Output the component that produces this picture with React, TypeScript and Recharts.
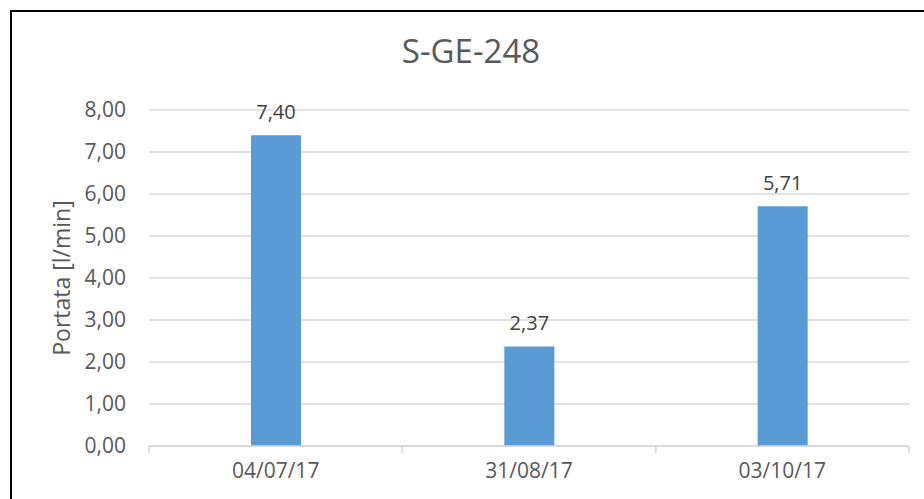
import { BarChart, Bar, XAxis, YAxis, CartesianGrid, LabelList } from 'recharts';

const dates = ['04/07/17', '31/08/17', '03/10/17'];
const portata = [7.4, 2.37, 5.71];
const yTicks = [0, 1, 2, 3, 4, 5, 6, 7, 8];

const data = dates.map((d, i) => ({ date: d, value: portata[i] }));

const fmt = (v: number) => v.toFixed(2).replace('.', ',');
const FONT = '"Open Sans", sans-serif';
const GRID = '#d9d9d9';

// category label plus small tick marks at the band edges
function DateTick(props: any) {
  const { x, y, payload } = props;
  const half = payload?.offset ?? 0;
  return (
    <g>
      {half > 0 && (
        <>
          <line x1={x - half} x2={x - half} y1={y} y2={y + 7} stroke={GRID} strokeWidth={1.5} />
          <line x1={x + half} x2={x + half} y1={y} y2={y + 7} stroke={GRID} strokeWidth={1.5} />
        </>
      )}
      <text x={x} y={y + 14} dy="0.85em" textAnchor="middle" fill="#595959" fontSize={21} fontFamily={FONT}>
        {payload.value}
      </text>
    </g>
  );
}

export default function App() {
  return (
    <div style={{ position: 'absolute', left: 0, top: 0, width: 924, height: 499, overflow: 'hidden', background: '#fff', fontFamily: FONT }}>
      <div style={{ position: 'absolute', left: 10, top: 10, width: 940, height: 520, border: '2px solid #000' }} />
      <div style={{ position: 'absolute', left: 10, width: 922, top: 34, fontSize: 33, lineHeight: '33px', textAlign: 'center', color: '#595959' }}>
        S-GE-248
      </div>
      <div style={{ position: 'absolute', left: 0, top: 0 }}>
        <BarChart width={924} height={499} data={data} margin={{ top: 110, right: 15, left: 0, bottom: 0 }}>
          <CartesianGrid vertical={false} stroke={GRID} strokeWidth={1.5} />
          <XAxis
            dataKey="date"
            height={53}
            axisLine={{ stroke: GRID, strokeWidth: 1.5 }}
            tickLine={false}
            tickSize={0}
            tickMargin={0}
            tick={<DateTick />}
          />
          <YAxis
            width={149}
            domain={[0, 8]}
            ticks={yTicks}
            tickFormatter={fmt}
            axisLine={false}
            tickLine={false}
            tickSize={0}
            tickMargin={23}
            tick={{ fill: '#595959', fontSize: 21, fontFamily: FONT }}
            label={{
              content: (props: any) => {
                const vb = props.viewBox || {};
                const cx = 61;
                const cy = (vb.y ?? 110) + (vb.height ?? 336) / 2;
                return (
                  <text
                    x={cx}
                    y={cy}
                    transform={`rotate(-90 ${cx} ${cy})`}
                    textAnchor="middle"
                    dominantBaseline="central"
                    fill="#595959"
                    fontSize={23}
                    fontFamily={FONT}
                  >
                    Portata [l/min]
                  </text>
                );
              },
            }}
          />
          <Bar dataKey="value" fill="#5b9bd5" barSize={50} isAnimationActive={false}>
            <LabelList dataKey="value" position="top" offset={16} formatter={(v: any) => fmt(Number(v))} fill="#404040" fontSize={20} fontFamily={FONT} />
          </Bar>
        </BarChart>
      </div>
    </div>
  );
}
